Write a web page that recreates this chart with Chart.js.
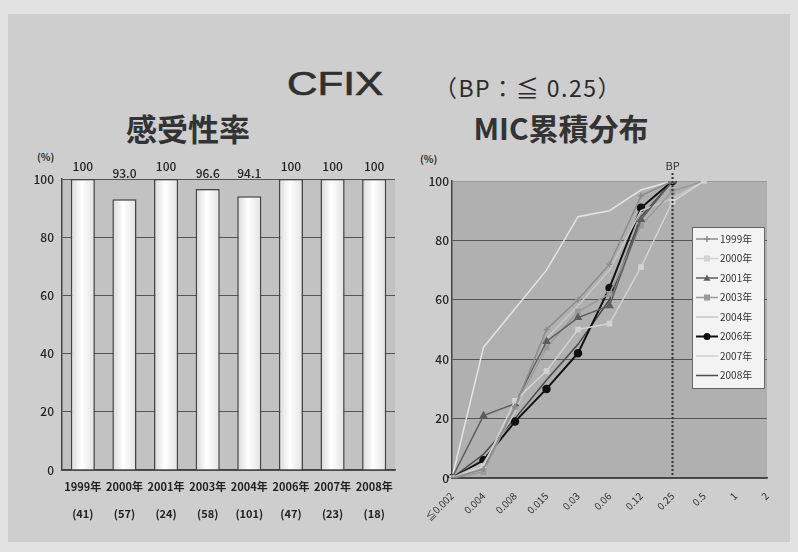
<!DOCTYPE html>
<html><head><meta charset="utf-8">
<script src="https://cdn.jsdelivr.net/npm/chart.js@4/dist/chart.umd.min.js"></script>
<style>
html,body{margin:0;padding:0;}
body{width:798px;height:552px;background:#e2e2e2;position:relative;overflow:hidden;font-family:"Noto Sans CJK JP",sans-serif;}
#slide{position:absolute;left:8px;top:14px;width:782px;height:528px;background:#cecece;}
.t{position:absolute;white-space:nowrap;color:#2b2b2b;line-height:1;}
#c1{position:absolute;left:0;top:0;}
#c2{position:absolute;left:400px;top:0;}
</style></head>
<body>
<div id="slide"></div>
<div class="t" style="left:287px;top:66px;font-family:'Liberation Sans',sans-serif;font-size:34px;-webkit-text-stroke:0.7px #303030;transform:scaleX(1.24);transform-origin:0 0;color:#303030;">CFIX</div>
<div class="t" style="left:434px;top:76px;font-size:23px;letter-spacing:1.5px;">（BP：≦ 0.25）</div>
<div class="t" style="left:88px;top:112px;width:200px;text-align:center;font-size:31px;font-weight:bold;color:#333;">感受性率</div>
<div class="t" style="left:461px;top:112px;width:200px;text-align:center;font-size:30px;font-weight:bold;color:#333;">MIC累積分布</div>
<div class="t" style="left:37px;top:152px;font-size:10px;font-weight:bold;">(%)</div>
<div class="t" style="left:420px;top:154px;font-size:10px;font-weight:bold;">(%)</div>
<canvas id="c1" width="400" height="552"></canvas>
<canvas id="c2" width="398" height="552"></canvas>
<script>
// ---- data: susceptibility chart ----
const years = ['1999年','2000年','2001年','2003年','2004年','2006年','2007年','2008年'];
const isolateCounts = ['(41)','(57)','(24)','(58)','(101)','(47)','(23)','(18)'];
const susceptibility = [100, 93.0, 100, 96.6, 94.1, 100, 100, 100];
const percentTicks = [0, 20, 40, 60, 80, 100];

// ---- data: MIC cumulative distribution ----
const micCategories = ['≦0.002','0.004','0.008','0.015','0.03','0.06','0.12','0.25','0.5','1','2'];
const bpCategory = '0.25';
const seriesNames = ['1999年','2000年','2001年','2003年','2004年','2006年','2007年','2008年'];
const mic1999 = [0, 3, 24, 50, 60, 72, 95, 100, null, null, null];
const mic2000 = [0, 4, 26, 36, 50, 52, 71, 93, 100, null, null];
const mic2001 = [0, 21, 25, 46, 54, 58, 87, 100, null, null, null];
const mic2003 = [0, 2, 24, 44, 56, 62, 85, 96.6, 100, null, null];
const mic2004 = [0, 5, 22, 47, 58, 70, 90, 94.1, 100, null, null];
const mic2006 = [0, 6, 19, 30, 42, 64, 91, 100, null, null, null];
const mic2007 = [0, 44, 57, 70, 88, 90, 97, 100, null, null, null];
const mic2008 = [0, 8, 20, 33, 45, 60, 88, 100, null, null, null];

const FONT = '"Noto Sans CJK JP", sans-serif';

const plotBg = color => ({
  id: 'plotBg',
  beforeDraw(chart) {
    const {ctx, chartArea: a} = chart;
    ctx.save(); ctx.fillStyle = color;
    ctx.fillRect(a.left, a.top, a.right - a.left, a.bottom - a.top);
    ctx.restore();
  }
});

const barLabels = {
  id: 'barLabels',
  afterDatasetsDraw(chart) {
    const {ctx, chartArea: a} = chart;
    const meta = chart.getDatasetMeta(0);
    ctx.save();
    ctx.font = '500 12px ' + FONT;
    ctx.fillStyle = '#222'; ctx.textAlign = 'center'; ctx.textBaseline = 'alphabetic';
    meta.data.forEach((bar, i) => {
      const v = susceptibility[i];
      const txt = v >= 100 ? '100' : v.toFixed(1);
      ctx.fillText(txt, bar.x, Math.min(bar.y - 8, a.top - 1));
    });
    ctx.restore();
  }
};

const BAR_PCT = 0.58;
function barFill(c) {
  const chart = c.chart; const xs = chart.scales.x;
  if (!xs || !chart.chartArea) return '#f2f2f2';
  const x = xs.getPixelForValue(c.dataIndex);
  const w = (xs.width / years.length) * BAR_PCT;
  const g = chart.ctx.createLinearGradient(x - w / 2, 0, x + w / 2, 0);
  g.addColorStop(0, '#d8d8d8'); g.addColorStop(0.45, '#ffffff'); g.addColorStop(1, '#e2e2e2');
  return g;
}

new Chart(document.getElementById('c1'), {
  type: 'bar',
  data: {
    labels: years.map((y, i) => [y, isolateCounts[i]]),
    datasets: [{data: susceptibility, backgroundColor: barFill, borderColor: '#454545', borderWidth: 1.5,
      barPercentage: BAR_PCT, categoryPercentage: 1}]
  },
  options: {
    responsive: false, animation: false,
    layout: {padding: {left: 0, right: 5, top: 179, bottom: 22}},
    plugins: {legend: {display: false}, tooltip: {enabled: false}},
    scales: {
      x: {grid: {display: false, drawTicks: false}, border: {display: true, color: '#444', width: 1.5},
        ticks: {color: '#222', font: {family: FONT, size: 11, weight: 'bold', lineHeight: 2.4}, padding: 4, maxRotation: 0, autoSkip: false},
        afterFit: s => { s.height = 60; }},
      y: {min: 0, max: 100, afterBuildTicks: s => { s.ticks = percentTicks.map(v => ({value: v})); },
        ticks: {color: '#222', font: {family: FONT, size: 12, weight: '500'}, padding: 8},
        grid: {color: '#555', lineWidth: 1, drawTicks: false},
        border: {display: true, color: '#444', width: 1.5},
        afterFit: s => { s.width = 62; }}
    }
  },
  plugins: [plotBg('#c2c2c2'), barLabels]
});

// ---- MIC chart ----
const styles = [
  {color: '#8c8c8c', point: 'cross', r: 3, w: 1.5},
  {color: '#d2d2d2', point: 'rect', r: 3, w: 1.5},
  {color: '#5e5e5e', point: 'triangle', r: 3.5, w: 1.5},
  {color: '#9a9a9a', point: 'rect', r: 3, w: 1.5},
  {color: '#c6c6c6', point: false, r: 0, w: 1.5},
  {color: '#111111', point: 'circle', r: 3.5, w: 2},
  {color: '#e4e4e4', point: false, r: 0, w: 1.5},
  {color: '#4a4a4a', point: false, r: 0, w: 1.5}
];
const micSeries = [mic1999, mic2000, mic2001, mic2003, mic2004, mic2006, mic2007, mic2008];

const bpLine = {
  id: 'bpLine',
  afterDatasetsDraw(chart) {
    const {ctx, chartArea: a, scales} = chart;
    const x = scales.x.getPixelForValue(micCategories.indexOf(bpCategory));
    ctx.save();
    ctx.strokeStyle = '#333'; ctx.lineWidth = 2; ctx.setLineDash([2, 2]);
    ctx.beginPath(); ctx.moveTo(x, a.top - 8); ctx.lineTo(x, a.bottom); ctx.stroke();
    ctx.setLineDash([]);
    ctx.fillStyle = '#333'; ctx.font = '11px ' + FONT; ctx.textAlign = 'center'; ctx.textBaseline = 'alphabetic';
    ctx.fillText('BP', x, a.top - 11);
    ctx.restore();
  }
};

function marker(ctx, style, x, y, r, color) {
  ctx.save(); ctx.fillStyle = color; ctx.strokeStyle = color; ctx.lineWidth = 1.5;
  ctx.beginPath();
  if (style === 'circle') { ctx.arc(x, y, r, 0, Math.PI * 2); ctx.fill(); }
  else if (style === 'rect') { ctx.fillRect(x - r, y - r, 2 * r, 2 * r); }
  else if (style === 'triangle') { ctx.moveTo(x, y - r); ctx.lineTo(x + r, y + r * 0.8); ctx.lineTo(x - r, y + r * 0.8); ctx.closePath(); ctx.fill(); }
  else if (style === 'cross') { ctx.moveTo(x, y - r); ctx.lineTo(x, y + r); ctx.moveTo(x - r, y); ctx.lineTo(x + r, y); ctx.stroke(); }
  ctx.restore();
}

const boxLegend = {
  id: 'boxLegend',
  afterDraw(chart) {
    const {ctx, chartArea: a} = chart;
    const bw = 72, rowH = 19.5, n = chart.data.datasets.length;
    const bx = a.right - bw - 3, by = a.top + 46, bh = rowH * n + 5;
    ctx.save();
    ctx.fillStyle = '#f3f3f3'; ctx.strokeStyle = '#666'; ctx.lineWidth = 1;
    ctx.fillRect(bx, by, bw, bh); ctx.strokeRect(bx + 0.5, by + 0.5, bw, bh);
    ctx.font = '10px ' + FONT; ctx.textBaseline = 'middle'; ctx.textAlign = 'left';
    chart.data.datasets.forEach((ds, i) => {
      const y = by + 12 + i * rowH;
      const st = styles[i];
      ctx.strokeStyle = st.color === '#e4e4e4' ? '#d0d0d0' : st.color; ctx.lineWidth = st.w;
      ctx.beginPath(); ctx.moveTo(bx + 4, y); ctx.lineTo(bx + 26, y); ctx.stroke();
      if (st.point) marker(ctx, st.point, bx + 15, y, st.r, st.color);
      ctx.fillStyle = '#333';
      ctx.fillText(ds.label, bx + 28, y);
    });
    ctx.restore();
  }
};

new Chart(document.getElementById('c2'), {
  type: 'line',
  data: {
    labels: micCategories,
    datasets: micSeries.map((d, i) => ({
      label: seriesNames[i], data: d,
      borderColor: styles[i].color, backgroundColor: styles[i].color,
      borderWidth: styles[i].w, pointStyle: styles[i].point || 'circle',
      pointRadius: styles[i].r, pointBorderWidth: 1.5, tension: 0, spanGaps: false
    }))
  },
  options: {
    responsive: false, animation: false,
    layout: {padding: {left: 0, right: 31, top: 181, bottom: 0}},
    plugins: {legend: {display: false}, tooltip: {enabled: false}},
    scales: {
      x: {offset: false, grid: {display: false}, border: {display: true, color: '#444', width: 1.5},
        ticks: {color: '#333', font: {family: FONT, size: 10}, minRotation: 45, maxRotation: 45, padding: 4, autoSkip: false},
        afterFit: s => { s.height = 74; }},
      y: {min: 0, max: 100, afterBuildTicks: s => { s.ticks = percentTicks.map(v => ({value: v})); },
        ticks: {color: '#222', font: {family: FONT, size: 12, weight: '500'}, padding: 3},
        grid: {color: c => c.tick && c.tick.value === 100 ? '#9a9a9a' : '#555', lineWidth: 1, drawTicks: false},
        border: {display: true, color: '#444', width: 1.5},
        afterFit: s => { s.width = 52; }}
    }
  },
  plugins: [plotBg('#b0b0b0'), bpLine, boxLegend]
});
</script>
</body></html>
